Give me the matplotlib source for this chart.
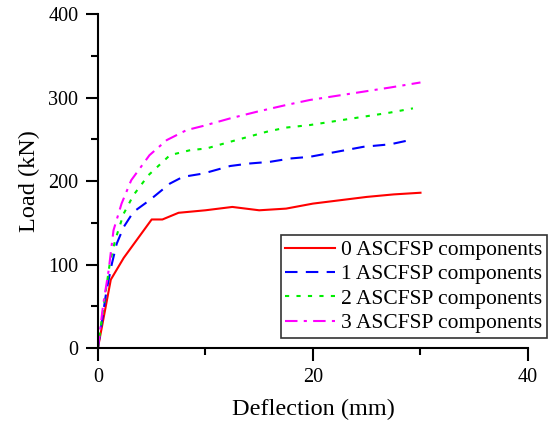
import matplotlib
import matplotlib.pyplot as plt

matplotlib.use('Agg')

plt.rcParams['font.family'] = ['Liberation Serif', 'DejaVu Serif']

# load-deflection curves
red_x = [0, 1.2, 2.4, 5, 6, 7.5, 10, 12.5, 15, 17.5, 20, 22.5, 25, 27.5, 30]
red_y = [0, 82, 108, 154, 154, 162, 165, 169, 165, 167, 173, 177, 181, 184, 186]

blue_x = [0, 0.8, 1.3, 1.75, 2.4, 3.3, 4.8, 6.7, 7.9, 9.8, 12.3, 14.1, 16,
          17.9, 19.7, 22.2, 24.7, 27.2, 29]
blue_y = [0, 69, 101, 125, 145, 163, 177, 197, 205, 209, 218, 221, 223,
          227, 229, 235, 241, 244, 249]

green_x = [0, 0.65, 1.1, 1.6, 2.4, 3.3, 4.7, 6.7, 8.6, 10.1, 12.3, 15.7,
           17.5, 19.7, 22.2, 24.7, 27.2, 29.3]
green_y = [0, 61, 101, 129, 161, 183, 207, 231, 237, 239, 247, 259,
           264, 267, 272, 277, 282, 287]

magenta_x = [0, 0.5, 1.0, 1.45, 2.2, 3.1, 4.8, 6.4, 8.25, 9.8, 12.3, 14.8,
             17.5, 19.7, 22.2, 24.7, 27.2, 30]
magenta_y = [0, 53, 93, 141, 173, 201, 231, 249, 261, 266, 275, 283,
             291, 297, 302, 307, 312, 318]

labels = ['0 ASCFSP components', '1 ASCFSP components',
          '2 ASCFSP components', '3 ASCFSP components']

fig = plt.figure(figsize=(5.5, 4.23), dpi=100)
ax = fig.add_axes([0.178, 0.177, 0.782, 0.79])

ax.plot(red_x, red_y, '-', c='#ff0000', lw=1.5, label=labels[0])
ax.plot(blue_x, blue_y, c='#0000ff', lw=1.5, dashes=(6, 4), label=labels[1])
ax.plot(green_x, green_y, c='#00ee00', lw=1.5, dashes=(2, 3.5), label=labels[2])
ax.plot(magenta_x, magenta_y, c='#ff00ff', lw=1.5, dashes=(6, 3, 1.5, 3),
        label=labels[3])

ax.set_xlim(0, 40)
ax.set_ylim(0, 400)
ax.set_xticks([0, 20, 40])
ax.set_xticks([10, 30], minor=True)
ax.set_yticks([0, 100, 200, 300, 400])
ax.set_yticks([50, 150, 250, 350], minor=True)

for side in ('top', 'right'):
    ax.spines[side].set_visible(False)
for side in ('left', 'bottom'):
    ax.spines[side].set_linewidth(1.5)

ax.tick_params(which='major', direction='out', length=9, width=1.5,
               labelsize=14.5, pad=5)
ax.tick_params(which='minor', direction='out', length=5, width=1.5)

ax.set_xlabel('Deflection (mm)', fontsize=17.5, labelpad=9)
ax.set_ylabel('Load (kN)', fontsize=17.5, labelpad=6)

leg = ax.legend(loc='lower right', bbox_to_anchor=(0.995, 0.201),
                bbox_transform=fig.transFigure, borderaxespad=0,
                fontsize=15.5, fancybox=False, edgecolor='#333333',
                framealpha=1, handlelength=2.3, handletextpad=0.3,
                labelspacing=0.2, borderpad=0.22)
leg.get_frame().set_linewidth(1.2)

fig.savefig('out.png', dpi=100)
